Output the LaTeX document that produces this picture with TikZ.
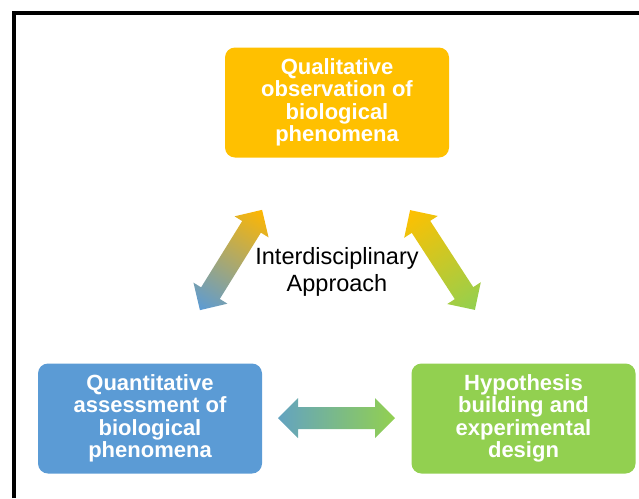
\documentclass[tikz,border=0pt]{standalone}
\usepackage{fontspec}
\setmainfont{Liberation Sans}
\begin{document}
\begin{tikzpicture}[x=1pt,y=-1pt,
  box/.style={rounded corners=10pt, minimum width=224pt, minimum height=110pt,
    inner sep=0pt, align=center, text=white,
    font=\fontsize{22}{22.5}\selectfont\bfseries},
  centertext/.style={align=center, font=\fontsize{23.5}{27}\selectfont}]
\definecolor{cOrange}{HTML}{FFC000}
\definecolor{cBlue}{HTML}{5B9BD5}
\definecolor{cGreen}{HTML}{92D050}
\useasboundingbox (0,0) rectangle (639,498);
% frame
\draw[line width=4pt] (14,498) -- (14,13) -- (639,13);
% boxes
\node[box, fill=cOrange] (qual) at (337,102.5) {Qualitative\\observation of\\biological\\phenomena};
\node[box, fill=cBlue] (quant) at (150,418.5) {Quantitative\\assessment of\\biological\\phenomena};
\node[box, fill=cGreen] (hyp) at (523.5,418.5) {Hypothesis\\building and\\experimental\\design};
\node[centertext] (center) at (337,272) {Interdisciplinary\\Approach};
% arrows
\def\arrowpath#1{(-#1,0) -- (-#1+20,20) -- (-#1+20,11) -- (#1-20,11) -- (#1-20,20) -- (#1,0) -- (#1-20,-20) -- (#1-20,-11) -- (-#1+20,-11) -- (-#1+20,-20) -- cycle}
\begin{scope}[transform canvas={shift={(231,260)}, rotate=58.2}]
  \shade[left color=cBlue, right color=cOrange!95!red] \arrowpath{59};
\end{scope}
\begin{scope}[transform canvas={shift={(442.5,260)}, rotate=-57}]
  \shade[left color=cOrange, right color=cGreen] \arrowpath{59.5};
\end{scope}
\begin{scope}[transform canvas={shift={(336.5,418)}}]
  \shade[left color=cBlue!85!cGreen, right color=cGreen] \arrowpath{58.5};
\end{scope}
\end{tikzpicture}
\end{document}
